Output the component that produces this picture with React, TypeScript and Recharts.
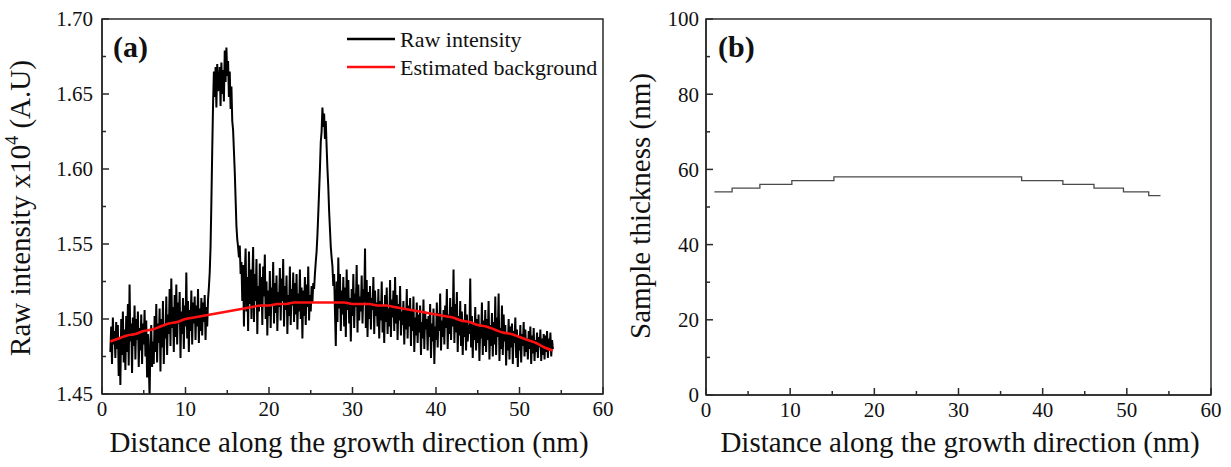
import { LineChart, Line, XAxis, YAxis, ReferenceArea } from "recharts";

const FONT = '"Liberation Serif", "Times New Roman", serif';
const INK = "#111";
const AXIS = "#2a2a2a";

// shared x ticks (minor every 5, labelled every 10)
const distanceTicks = [0, 5, 10, 15, 20, 25, 30, 35, 40, 45, 50, 55, 60];
const intensityTicks = [1.45, 1.475, 1.5, 1.525, 1.55, 1.575, 1.6, 1.625, 1.65, 1.675, 1.7];
const thicknessTicks = [0, 10, 20, 30, 40, 50, 60, 70, 80, 90, 100];

// raw intensity, sampled every 0.1 nm starting at 1.0 nm
const rawStart = 1;
const rawStep = 0.1;
const rawIntensity = [
  1.478, 1.495, 1.470, 1.501, 1.483, 1.492, 1.474, 1.498, 1.480, 1.496,
  1.462, 1.488, 1.456, 1.500, 1.476, 1.505, 1.471, 1.493, 1.466, 1.502,
  1.478, 1.510, 1.469, 1.523, 1.485, 1.497, 1.464, 1.501, 1.482, 1.509,
  1.473, 1.500, 1.486, 1.505, 1.468, 1.494, 1.479, 1.503, 1.470, 1.497,
  1.483, 1.506, 1.475, 1.499, 1.461, 1.490, 1.472, 1.447, 1.486, 1.496,
  1.468, 1.485, 1.470, 1.502, 1.478, 1.510, 1.471, 1.497, 1.484, 1.507,
  1.465, 1.500, 1.481, 1.512, 1.470, 1.495, 1.487, 1.515, 1.476, 1.503,
  1.490, 1.520, 1.482, 1.527, 1.494, 1.508, 1.478, 1.516, 1.488, 1.523,
  1.483, 1.511, 1.497, 1.518, 1.474, 1.505, 1.490, 1.514, 1.480, 1.509,
  1.495, 1.531, 1.487, 1.512, 1.478, 1.506, 1.492, 1.519, 1.483, 1.511,
  1.497, 1.515, 1.486, 1.509, 1.495, 1.520, 1.484, 1.507, 1.492, 1.514,
  1.489, 1.511, 1.498, 1.516, 1.486, 1.508, 1.495, 1.513, 1.521, 1.531,
  1.548, 1.578, 1.612, 1.643, 1.665, 1.648, 1.668, 1.641, 1.670, 1.652,
  1.655, 1.668, 1.642, 1.671, 1.650, 1.666, 1.645, 1.679, 1.658, 1.681,
  1.662, 1.672, 1.648, 1.665, 1.640, 1.655, 1.632, 1.626, 1.612, 1.598,
  1.580, 1.562, 1.553, 1.548, 1.541, 1.549, 1.530, 1.538, 1.512, 1.536,
  1.495, 1.530, 1.547, 1.505, 1.528, 1.492, 1.545, 1.510, 1.533, 1.500,
  1.525, 1.548, 1.498, 1.530, 1.512, 1.540, 1.490, 1.522, 1.505, 1.537,
  1.508, 1.528, 1.496, 1.535, 1.515, 1.543, 1.500, 1.525, 1.489, 1.519,
  1.502, 1.532, 1.494, 1.521, 1.510, 1.538, 1.497, 1.524, 1.504, 1.529,
  1.492, 1.518, 1.508, 1.534, 1.499, 1.527, 1.512, 1.540, 1.495, 1.522,
  1.506, 1.529, 1.490, 1.516, 1.502, 1.535, 1.496, 1.520, 1.509, 1.531,
  1.498, 1.524, 1.503, 1.530, 1.493, 1.517, 1.505, 1.533, 1.500, 1.521,
  1.487, 1.519, 1.502, 1.528, 1.496, 1.523, 1.508, 1.535, 1.499, 1.516,
  1.505, 1.522, 1.511, 1.524, 1.520, 1.530, 1.538, 1.545, 1.556, 1.570,
  1.585, 1.600, 1.618, 1.625, 1.641, 1.628, 1.637, 1.620, 1.632, 1.615,
  1.600, 1.588, 1.572, 1.560, 1.548, 1.541, 1.535, 1.522, 1.530, 1.505,
  1.482, 1.525, 1.498, 1.541, 1.507, 1.530, 1.492, 1.519, 1.503, 1.528,
  1.495, 1.521, 1.488, 1.533, 1.506, 1.526, 1.497, 1.514, 1.485, 1.520,
  1.502, 1.530, 1.494, 1.517, 1.508, 1.536, 1.491, 1.523, 1.499, 1.515,
  1.505, 1.529, 1.497, 1.520, 1.511, 1.547, 1.494, 1.526, 1.488, 1.518,
  1.500, 1.522, 1.493, 1.514, 1.506, 1.528, 1.490, 1.519, 1.502, 1.511,
  1.495, 1.520, 1.487, 1.512, 1.499, 1.525, 1.491, 1.509, 1.484, 1.516,
  1.498, 1.521, 1.490, 1.507, 1.495, 1.526, 1.488, 1.513, 1.501, 1.519,
  1.492, 1.528, 1.497, 1.516, 1.486, 1.510, 1.499, 1.522, 1.489, 1.505,
  1.496, 1.512, 1.483, 1.507, 1.493, 1.520, 1.487, 1.509, 1.495, 1.514,
  1.482, 1.506, 1.492, 1.515, 1.478, 1.501, 1.489, 1.511, 1.484, 1.503,
  1.491, 1.509, 1.476, 1.498, 1.487, 1.513, 1.480, 1.505, 1.493, 1.500,
  1.479, 1.502, 1.488, 1.510, 1.474, 1.497, 1.485, 1.507, 1.470, 1.495,
  1.486, 1.511, 1.481, 1.504, 1.492, 1.517, 1.479, 1.499, 1.488, 1.506,
  1.483, 1.509, 1.494, 1.520, 1.480, 1.503, 1.490, 1.514, 1.486, 1.508,
  1.495, 1.533, 1.484, 1.510, 1.491, 1.518, 1.478, 1.502, 1.489, 1.512,
  1.482, 1.505, 1.476, 1.498, 1.488, 1.510, 1.479, 1.503, 1.485, 1.496,
  1.490, 1.527, 1.481, 1.502, 1.474, 1.497, 1.486, 1.508, 1.479, 1.500,
  1.484, 1.503, 1.472, 1.495, 1.487, 1.511, 1.476, 1.499, 1.482, 1.506,
  1.478, 1.500, 1.486, 1.512, 1.473, 1.496, 1.482, 1.504, 1.475, 1.498,
  1.483, 1.515, 1.476, 1.501, 1.488, 1.517, 1.472, 1.494, 1.480, 1.509,
  1.476, 1.503, 1.485, 1.496, 1.469, 1.491, 1.479, 1.500, 1.473, 1.495,
  1.481, 1.497, 1.470, 1.492, 1.484, 1.501, 1.474, 1.493, 1.468, 1.488,
  1.479, 1.496, 1.471, 1.490, 1.482, 1.498, 1.475, 1.493, 1.478, 1.487,
  1.473, 1.492, 1.480, 1.495, 1.470, 1.489, 1.477, 1.494, 1.472, 1.486,
  1.478, 1.491, 1.474, 1.488, 1.481, 1.493, 1.472, 1.487, 1.476, 1.490,
  1.473, 1.489, 1.478, 1.492, 1.474, 1.487, 1.479, 1.491, 1.475, 1.486,
  1.480,
];

// estimated background, one point per nm
const backgroundX = [
  1, 2, 3, 4, 5, 6, 7, 8, 9, 10, 11, 12, 13, 14, 15, 16, 17, 18, 19, 20,
  21, 22, 23, 24, 25, 26, 27, 28, 29, 30, 31, 32, 33, 34, 35, 36, 37, 38, 39, 40,
  41, 42, 43, 44, 45, 46, 47, 48, 49, 50, 51, 52, 53, 54,
];
const background = [
  1.485, 1.487, 1.489, 1.490, 1.492, 1.493, 1.495, 1.497, 1.498, 1.500,
  1.501, 1.502, 1.503, 1.504, 1.505, 1.506, 1.507, 1.508, 1.509, 1.509,
  1.510, 1.510, 1.511, 1.511, 1.511, 1.511, 1.511, 1.511, 1.511, 1.510,
  1.510, 1.510, 1.509, 1.509, 1.508, 1.507, 1.506, 1.505, 1.504, 1.503,
  1.502, 1.501, 1.499, 1.498, 1.496, 1.495, 1.493, 1.491, 1.490, 1.488,
  1.486, 1.484, 1.481, 1.479,
];

// sample thickness, step edges
const thicknessX = [1, 3.1, 6.4, 10.2, 15.2, 37.5, 42.4, 46.1, 49.6, 52.6, 54];
const thickness = [54, 55, 56, 57, 58, 57, 56, 55, 54, 53, 53];

const seriesNames = ["Raw intensity", "Estimated background"];
const seriesColors = ["#000000", "#ff1010"];

const rawData = rawIntensity.map((v, i) => ({
  x: Math.round((rawStart + i * rawStep) * 10) / 10,
  y: v,
}));
const backgroundData = backgroundX.map((x, i) => ({ x, y: background[i] }));
const thicknessData = thicknessX.map((x, i) => ({ x, y: thickness[i] }));

const makeBottomTick = (isMajor: (v: number) => boolean) => (props: any) => {
  const { x, y, payload } = props;
  const v = payload.value;
  const major = isMajor(v);
  return (
    <g>
      <line x1={x} x2={x} y1={y} y2={y - (major ? 7 : 4)} stroke={AXIS} strokeWidth={1.5} />
      {major && (
        <text x={x} y={y + 22} textAnchor="middle" fontSize={21} fontFamily={FONT} fill={INK}>
          {v}
        </text>
      )}
    </g>
  );
};

const makeLeftTick = (isMajor: (v: number) => boolean, format: (v: number) => string, gap: number) => (props: any) => {
  const { x, y, payload } = props;
  const v = payload.value;
  const major = isMajor(v);
  return (
    <g>
      <line x1={x} x2={x + (major ? 7 : 4)} y1={y} y2={y} stroke={AXIS} strokeWidth={1.5} />
      {major && (
        <text x={x - gap} y={y} dy="0.35em" textAnchor="end" fontSize={21} fontFamily={FONT} fill={INK}>
          {format(v)}
        </text>
      )}
    </g>
  );
};

const DistanceTick = makeBottomTick((v) => v % 10 === 0);
const IntensityTick = makeLeftTick((v) => Math.round(v * 1000) % 50 === 0, (v) => v.toFixed(2), 9);
const ThicknessTick = makeLeftTick((v) => v % 20 === 0, (v) => String(v), 7);

export default function App() {
  return (
    <div style={{ position: "absolute", left: 0, top: 0, width: 1231, height: 467, background: "#fff" }}>
      <div style={{ position: "absolute", left: 0, top: 0 }}>
        <LineChart width={615} height={467} margin={{ top: 19, right: 12, bottom: 33, left: 0 }}>
          <XAxis
            dataKey="x"
            type="number"
            domain={[0, 60]}
            ticks={distanceTicks}
            interval={0}
            height={40}
            tickSize={0}
            tickMargin={0}
            tickLine={false}
            tick={DistanceTick}
            axisLine={{ stroke: AXIS, strokeWidth: 1.5 }}
            allowDataOverflow
          />
          <YAxis
            type="number"
            domain={[1.45, 1.7]}
            ticks={intensityTicks}
            interval={0}
            width={102}
            tickSize={0}
            tickMargin={0}
            tickLine={false}
            tick={IntensityTick}
            axisLine={{ stroke: AXIS, strokeWidth: 1.5 }}
            allowDataOverflow
          />
          <ReferenceArea x1={0} x2={60} y1={1.45} y2={1.7} fill="none" stroke={AXIS} strokeWidth={1.5} ifOverflow="visible" />
          <Line
            data={rawData}
            dataKey="y"
            name={seriesNames[0]}
            type="linear"
            stroke={seriesColors[0]}
            strokeWidth={2}
            strokeLinejoin="miter"
            dot={false}
            isAnimationActive={false}
          />
          <Line
            data={backgroundData}
            dataKey="y"
            name={seriesNames[1]}
            type="monotone"
            stroke={seriesColors[1]}
            strokeWidth={2.5}
            dot={false}
            isAnimationActive={false}
          />
        </LineChart>
      </div>
      <div style={{ position: "absolute", left: 615, top: 0 }}>
        <LineChart width={616} height={467} margin={{ top: 19, right: 20, bottom: 32, left: 0 }}>
          <XAxis
            dataKey="x"
            type="number"
            domain={[0, 60]}
            ticks={distanceTicks}
            interval={0}
            height={40}
            tickSize={0}
            tickMargin={0}
            tickLine={false}
            tick={DistanceTick}
            axisLine={{ stroke: AXIS, strokeWidth: 1.5 }}
            allowDataOverflow
          />
          <YAxis
            type="number"
            domain={[0, 100]}
            ticks={thicknessTicks}
            interval={0}
            width={91}
            tickSize={0}
            tickMargin={0}
            tickLine={false}
            tick={ThicknessTick}
            axisLine={{ stroke: AXIS, strokeWidth: 1.5 }}
            allowDataOverflow
          />
          <ReferenceArea x1={0} x2={60} y1={0} y2={100} fill="none" stroke={AXIS} strokeWidth={1.5} ifOverflow="visible" />
          <Line
            data={thicknessData}
            dataKey="y"
            name="Sample thickness"
            type="stepAfter"
            stroke="#4a4a4a"
            strokeWidth={1.3}
            dot={false}
            isAnimationActive={false}
          />
        </LineChart>
      </div>
      <svg
        width={1231}
        height={467}
        style={{ position: "absolute", left: 0, top: 0, pointerEvents: "none" }}
        fontFamily={FONT}
        fill={INK}
      >
        <text x={113} y={57} fontSize={30} fontWeight="bold">(a)</text>
        <text x={718} y={57} fontSize={30} fontWeight="bold">(b)</text>
        {seriesNames.map((name, i) => (
          <g key={name}>
            <line x1={347} x2={395} y1={39 + i * 28} y2={39 + i * 28} stroke={seriesColors[i]} strokeWidth={2.5} />
            <text x={400} y={46.5 + i * 28} fontSize={22}>{name}</text>
          </g>
        ))}
        <text x={349} y={452} fontSize={29} textAnchor="middle">Distance along the growth direction (nm)</text>
        <text x={960} y={452} fontSize={29} textAnchor="middle">Distance along the growth direction (nm)</text>
        <text transform="rotate(-90, 30, 208)" x={30} y={208} fontSize={29} textAnchor="middle">
          <tspan>Raw intensity x10</tspan>
          <tspan fontSize={18} dy={-12}>4</tspan>
          <tspan dy={12}> (A.U)</tspan>
        </text>
        <text transform="rotate(-90, 650, 206)" x={650} y={206} fontSize={29} textAnchor="middle">
          Sample thickness (nm)
        </text>
      </svg>
    </div>
  );
}
